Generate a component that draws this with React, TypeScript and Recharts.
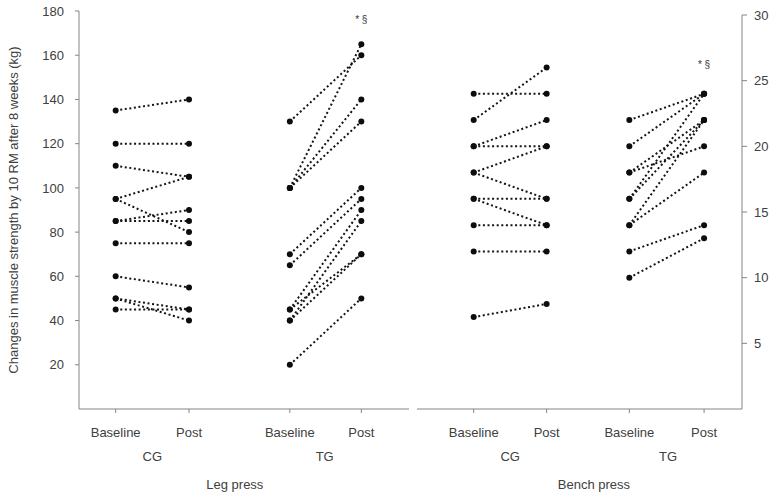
import React from 'react';
import { ScatterChart, Scatter, XAxis, YAxis } from 'recharts';

// Leg press (kg), one value per subject, baseline paired with post
const legCGBaseline = [135, 120, 110, 95, 95, 85, 85, 75, 60, 50, 50, 45];
const legCGPost = [140, 120, 105, 105, 80, 90, 85, 75, 55, 45, 40, 45];
const legTGBaseline = [130, 100, 100, 100, 70, 65, 45, 40, 45, 40, 20];
const legTGPost = [160, 165, 140, 130, 100, 95, 90, 85, 70, 70, 50];

// Bench press (kg)
const benchCGBaseline = [24, 22, 20, 20, 18, 18, 16, 16, 14, 12, 7];
const benchCGPost = [24, 26, 22, 20, 20, 16, 16, 14, 14, 12, 8];
const benchTGBaseline = [22, 20, 18, 18, 16, 16, 14, 14, 12, 10];
const benchTGPost = [24, 24, 22, 20, 24, 22, 22, 18, 14, 13];

const timeLabels = ['Baseline', 'Post', 'Baseline', 'Post'];
const groupLabels = ['CG', 'TG'];
const legTicksLeft = [20, 40, 60, 80, 100, 120, 140, 160, 180];
const benchTicksRight = [5, 10, 15, 20, 25, 30];
const significance = '* §';

// category positions on each panel's numeric x axis
const legPos = [1, 3, 5.75, 7.7];
const legGroupPos = [2, 6.7];
const legPanelPos = [4.25];
const benchPos = [1.57, 3.59, 5.88, 7.95];
const benchGroupPos = [2.58, 6.95];
const benchPanelPos = [4.9];

const TEXT = '#404040';
const AXIS = '#858585';
const FONT = '"Liberation Sans", Arial, sans-serif';

const pairs = (base: number[], post: number[], x0: number, x1: number) =>
  base.map((b, i) => [
    { x: x0, y: b },
    { x: x1, y: post[i] },
  ]);

const Dot = (props: any) => <circle cx={props.cx} cy={props.cy} r={3} fill="#0d0d0d" />;
const Nothing = () => <g />;

const Mark = (props: any) => (
  <text x={props.cx} y={props.cy} textAnchor="middle" dominantBaseline="central" fontSize={10} fill="#333" fontFamily={FONT}>
    {significance}
  </text>
);

const lineStyle = { stroke: '#141414', strokeWidth: 2, strokeDasharray: '2 2.6' };
const tickStyle = { fill: TEXT, fontSize: 13, fontFamily: FONT };

interface PanelProps {
  width: number;
  margin: { top: number; right: number; bottom: number; left: number };
  pos: number[];
  groupPos: number[];
  panelPos: number[];
  panelName: string;
  series: { x: number; y: number }[][];
  mark: { x: number; y: number };
  yAxis: React.ReactNode;
}

function Panel({ width, margin, pos, groupPos, panelPos, panelName, series, mark, yAxis }: PanelProps) {
  return (
    <ScatterChart width={width} height={497} margin={margin}>
      <XAxis
        type="number"
        dataKey="x"
        domain={[0, 9]}
        ticks={pos}
        interval={0}
        tickFormatter={(_v: number, i: number) => timeLabels[i]}
        height={30}
        tickSize={4}
        tickMargin={15}
        stroke={AXIS}
        tick={tickStyle}
      />
      <XAxis
        xAxisId="grp"
        type="number"
        dataKey="x"
        domain={[0, 9]}
        allowDataOverflow
        ticks={groupPos}
        interval={0}
        tickFormatter={(_v: number, i: number) => groupLabels[i]}
        height={24}
        tickSize={0}
        tickMargin={13}
        axisLine={false}
        tickLine={false}
        tick={tickStyle}
      />
      <XAxis
        xAxisId="panel"
        type="number"
        dataKey="x"
        domain={[0, 9]}
        allowDataOverflow
        ticks={panelPos}
        interval={0}
        tickFormatter={() => panelName}
        height={34}
        tickSize={0}
        tickMargin={17}
        axisLine={false}
        tickLine={false}
        tick={tickStyle}
      />
      {yAxis}
      {series.map((d, i) => (
        <Scatter key={i} data={d} line={lineStyle} shape={Dot} isAnimationActive={false} />
      ))}
      <Scatter data={[mark]} shape={Mark} isAnimationActive={false} />
      <Scatter xAxisId="grp" data={groupPos.map((x) => ({ x, y: 0 }))} shape={Nothing} isAnimationActive={false} />
      <Scatter xAxisId="panel" data={panelPos.map((x) => ({ x, y: 0 }))} shape={Nothing} isAnimationActive={false} />
    </ScatterChart>
  );
}

export default function App() {
  const legSeries = [
    ...pairs(legCGBaseline, legCGPost, legPos[0], legPos[1]),
    ...pairs(legTGBaseline, legTGPost, legPos[2], legPos[3]),
  ];
  const benchSeries = [
    ...pairs(benchCGBaseline, benchCGPost, benchPos[0], benchPos[1]),
    ...pairs(benchTGBaseline, benchTGPost, benchPos[2], benchPos[3]),
  ];

  return (
    <div style={{ position: 'absolute', left: 0, top: 0, width: 774, height: 497, background: '#fff', display: 'flex' }}>
      <Panel
        width={412}
        margin={{ top: 11, right: 3, bottom: 0, left: 0 }}
        pos={legPos}
        groupPos={legGroupPos}
        panelPos={legPanelPos}
        panelName="Leg press"
        series={legSeries}
        mark={{ x: legPos[3], y: 176 }}
        yAxis={
          <YAxis
            type="number"
            dataKey="y"
            domain={[0, 180]}
            ticks={legTicksLeft}
            interval={0}
            width={79}
            tickSize={4}
            tickMargin={11}
            stroke={AXIS}
            tick={tickStyle}
            label={{
              value: 'Changes in muscle strength by 10 RM after 8 weeks (kg)',
              angle: -90,
              position: 'insideLeft',
              offset: 13,
              style: { textAnchor: 'middle', fill: TEXT, fontSize: 13, fontFamily: FONT },
            }}
          />
        }
      />
      <Panel
        width={362}
        margin={{ top: 15, right: 0, bottom: 0, left: 5 }}
        pos={benchPos}
        groupPos={benchGroupPos}
        panelPos={benchPanelPos}
        panelName="Bench press"
        series={benchSeries}
        mark={{ x: benchPos[3], y: 26.2 }}
        yAxis={
          <YAxis
            type="number"
            dataKey="y"
            orientation="right"
            domain={[0, 30]}
            ticks={benchTicksRight}
            interval={0}
            width={32}
            tickSize={5}
            tickMargin={7}
            stroke={AXIS}
            tick={tickStyle}
          />
        }
      />
    </div>
  );
}
